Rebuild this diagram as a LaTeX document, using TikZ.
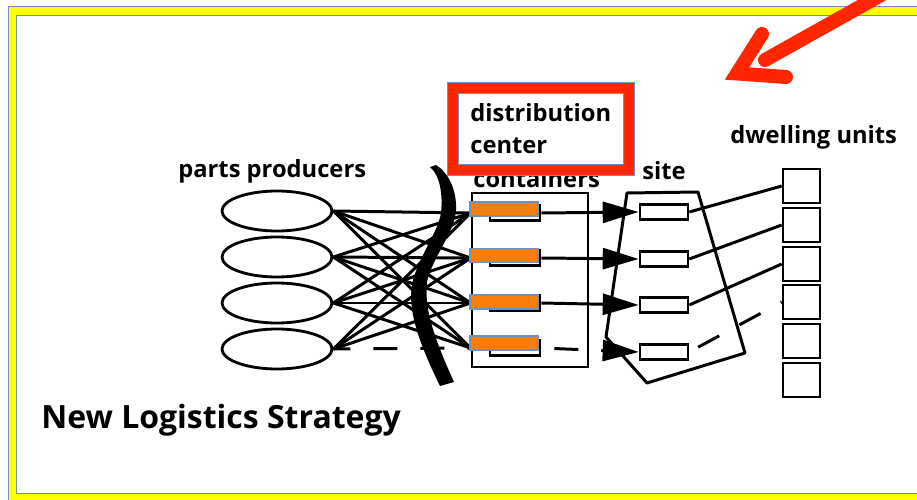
\documentclass[tikz,border=0pt]{standalone}
\usepackage{fontspec}
\setmainfont{Open Sans}
\usetikzlibrary{shapes.geometric,arrows.meta}

\definecolor{framefill}{RGB}{255,255,0}
\definecolor{frameedge}{RGB}{110,145,195}
\definecolor{markred}{RGB}{255,38,0}
\definecolor{markorange}{RGB}{250,125,10}

\newcommand{\lblfont}{\fontsize{13.5}{17}\selectfont\bfseries}
\newcommand{\titlefont}{\fontsize{18.2}{22}\selectfont\bfseries}

\tikzset{
  producer/.style={ellipse, draw, line width=1.6pt, minimum width=2.2cm, minimum height=0.8cm, inner sep=0pt},
  slot/.style={rectangle, draw, line width=1.5pt, minimum width=0.96cm, minimum height=0.3cm, inner sep=0pt},
  unit/.style={rectangle, draw, line width=1.5pt, minimum width=0.74cm, minimum height=0.68cm, inner sep=0pt},
  hilite/.style={rectangle, fill=markorange, draw=frameedge, line width=0.6pt, minimum width=1.36cm, minimum height=0.28cm, inner sep=0pt},
  link/.style={line width=1.7pt},
  gaplink/.style={link, dash pattern=on 0.48cm off 0.46cm},
  flow/.style={-{Triangle[length=0.72cm, width=0.42cm]}},
  lbl/.style={font=\lblfont, inner sep=0pt}
}

\begin{document}
\begin{tikzpicture}[x=0.02cm, y=-0.02cm]
\clip (0,0) rectangle (917,500);
\fill[white] (0,0) rectangle (917,500);

% yellow frame, runs off the right and bottom edges
\draw[frameedge, line width=0.02cm, double=framefill, double distance=0.16cm] (12.5,11.5) rectangle (940,497.5);

% parts producers
\node[producer] (prod1) at (277,211){};
\node[producer] (prod2) at (277,257){};
\node[producer] (prod3) at (277,303){};
\node[producer] (prod4) at (277,349){};
\node[lbl, anchor=base west] (prodlbl) at (178,177){parts producers};

% containers
\node[draw, line width=1.6pt, minimum width=2.32cm, minimum height=3.48cm] (contbox) at (530,280){};
\node[slot, minimum width=1cm] (cont1) at (515,213){};
\node[slot, minimum width=1cm] (cont2) at (515,258){};
\node[slot, minimum width=1cm] (cont3) at (515,303){};
\node[slot, minimum width=1cm] (cont4) at (515,348){};
\coordinate (cin1) at (contbox.west |- cont1.west);
\coordinate (cin2) at (contbox.west |- cont2.west);
\coordinate (cin3) at (contbox.west |- cont3.west);
\coordinate (cin4) at (contbox.west |- cont4.west);
\node[lbl, anchor=base west] (contlbl) at (473,188){containers};

% every producer feeds every container
\draw[link](prod1.east) -- (cin1);
\draw[link](prod1.east) -- (cin2);
\draw[link](prod1.east) -- (cin3);
\draw[link](prod1.east) -- (cin4);
\draw[link](prod2.east) -- (cin1);
\draw[link](prod2.east) -- (cin2);
\draw[link](prod2.east) -- (cin3);
\draw[link](prod2.east) -- (cin4);
\draw[link](prod3.east) -- (cin1);
\draw[link](prod3.east) -- (cin2);
\draw[link](prod3.east) -- (cin3);
\draw[link](prod3.east) -- (cin4);
\draw[link](prod4.east) -- (cin1);
\draw[link](prod4.east) -- (cin2);
\draw[link](prod4.east) -- (cin3);
\draw[gaplink, dash phase=0.14cm](prod4.east) -- (cin4);

% brush stroke across the links
\fill (430,167) .. controls (440,175) and (443,195) .. (441,213)
  .. controls (438,232) and (420,255) .. (413,280)
  .. controls (407,305) and (415,335) .. (440,386)
  -- (454,382) .. controls (435,340) and (424,310) .. (427,282)
  .. controls (432,258) and (455,232) .. (456,210)
  .. controls (457,190) and (448,172) .. (436,165) -- cycle;

% site
\draw[link, line join=round] (627,193) -- (698,192) -- (745,353) -- (647,383) -- (606,337) -- cycle;
\node[slot] (site1) at (664,212){};
\node[slot] (site2) at (664,259){};
\node[slot] (site3) at (664,305){};
\node[slot] (site4) at (664,352){};
\node[lbl, anchor=base west] (sitelbl) at (642,180){site};

\draw[link, flow](cont1.east) -- (site1.west);
\draw[link, flow](cont2.east) -- (site2.west);
\draw[link, flow](cont3.east) -- (site3.west);
\draw[gaplink, flow, dash phase=0.68cm](cont4.east) -- (site4.west);

% dwelling units
\node[unit] (dwell1) at (801.5,186){};
\node[unit] (dwell2) at (801.5,225){};
\node[unit] (dwell3) at (801.5,264){};
\node[unit] (dwell4) at (801.5,302){};
\node[unit] (dwell5) at (801.5,341){};
\node[unit] (dwell6) at (801.5,380){};
\node[lbl, anchor=base west] (dwelllbl) at (730,144){dwelling units};

\draw[link](site1.east) -- (dwell1.west);
\draw[link](site2.east) -- (dwell2.west);
\draw[link](site3.east) -- (dwell3.west);
\draw[gaplink, dash phase=0.74cm](site4.east) -- (dwell4.west);

% orange marks over the container slots
\node[hilite] (hl1) at (504,209){};
\node[hilite] (hl2) at (504,255.5){};
\node[hilite] (hl3) at (504,302){};
\node[hilite] (hl4) at (504,343){};

% red call-out box
\node[draw=frameedge, line width=0.02cm, double=markred, double distance=0.2cm,
  minimum width=3.53cm, minimum height=1.65cm, align=left, font=\lblfont] (dcbox) at (540.75,128.75)
  {distribution\\[1pt]center};

% red pointer arrow
\draw[markred, line width=0.28cm, line cap=round] (765,60) -- (940,-38);
\draw[markred, line width=0.28cm, line cap=round, line join=miter] (762,34) -- (737,73.5) -- (786,77);

\node[font=\titlefont, inner sep=0pt, anchor=base west] (title) at (41,428){New Logistics Strategy};
\end{tikzpicture}
\end{document}
